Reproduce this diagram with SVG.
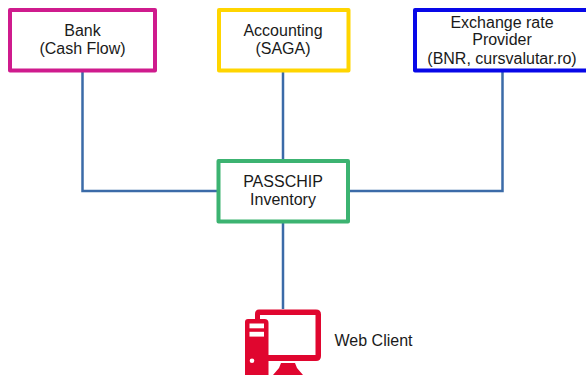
<svg xmlns="http://www.w3.org/2000/svg" width="586" height="375" viewBox="0 0 586 375">
<style>
text{font-family:"Liberation Sans",Arial,sans-serif;font-size:16px;fill:#1a1a1a;text-anchor:middle}
.box{fill:#fff;stroke-width:4;stroke-linejoin:round}
.c{fill:none;stroke:#3b6ba8;stroke-width:2.5}
.pc{fill:#e0062f}
</style>
<rect width="586" height="375" fill="#fff"/>
<g id="connectors">
<path class="c" d="M82.500 70V191H219"/>
<path class="c" d="M283 70V161"/>
<path class="c" d="M502.500 70V191H348"/>
<path class="c" d="M283 221V309"/>
</g>
<g id="bank"><rect class="box" x="10" y="10" width="145" height="60.500" stroke="#cf1b8d"/><text x="82.500" y="36">Bank</text><text x="82.500" y="54">(Cash Flow)</text></g>
<g id="accounting"><rect class="box" x="219" y="10" width="129.500" height="60.500" stroke="#ffd500"/><text x="283" y="36">Accounting</text><text x="283" y="54">(SAGA)</text></g>
<g id="exchange"><rect class="box" x="415" y="10" width="175" height="60.500" stroke="#0808e8"/><text x="502" y="28">Exchange rate</text><text x="502" y="45">Provider</text><text x="502" y="64">(BNR, cursvalutar.ro)</text></g>
<g id="passchip"><rect class="box" x="218.500" y="161" width="129.500" height="60.500" stroke="#3cb371"/><text x="283" y="187">PASSCHIP</text><text x="283" y="205">Inventory</text></g>
<g id="web-client">
<path class="pc" d="M259 309.500H316Q321 309.500 321 314.500V356Q321 361 316 361H268V355H315.500V315H260V320H255V314Q255 309.500 259 309.500Z"/>
<path class="pc" d="M248 319H264.500Q268.500 319 268.500 323V375H245V322Q245 319 248 319Z"/>
<rect x="249.500" y="323.500" width="14.500" height="4.800" fill="#fff"/>
<rect x="249.500" y="331.800" width="14.500" height="4.800" fill="#fff"/>
<circle cx="252" cy="360.700" r="2.300" fill="#fff"/>
<path class="pc" d="M281 363H295L297 368L303 375H273L279 368Z"/>
<text x="373.500" y="346">Web Client</text>
</g>
</svg>
